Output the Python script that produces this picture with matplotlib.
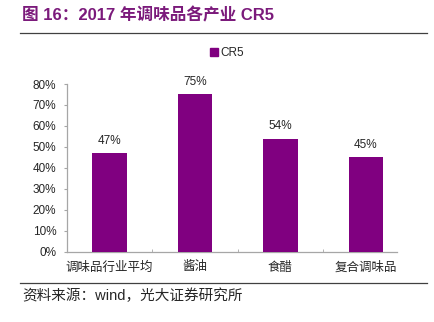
import matplotlib
matplotlib.use("Agg")
import matplotlib.pyplot as plt
from matplotlib.lines import Line2D
from matplotlib.patches import Patch

plt.rcParams["font.family"] = ["Liberation Sans", "Noto Sans CJK SC", "DejaVu Sans"]

categorias = ["调味品行业平均", "酱油", "食醋", "复合调味品"]
cr5 = [0.47, 0.75, 0.54, 0.45]
rotulos = ["47%", "75%", "54%", "45%"]
yticks = [0, 0.1, 0.2, 0.3, 0.4, 0.5, 0.6, 0.7, 0.8]
ytick_labels = ["0%", "10%", "20%", "30%", "40%", "50%", "60%", "70%", "80%"]

ROXO = "#800080"
TEXTO = "#262626"
EIXO = "#a6a6a6"

W, H = 435, 322
fig = plt.figure(figsize=(W / 100, H / 100), dpi=100)
ax = fig.add_axes([66.7 / W, 1 - 251.7 / H, (396.7 - 66.7) / W, (251.7 - 84) / H])

x = range(len(categorias))
bars = ax.bar(x, cr5, width=0.405, color=ROXO, zorder=3)
for bar, txt in zip(bars, rotulos):
    ax.annotate(txt, (bar.get_x() + bar.get_width() / 2, bar.get_height()),
                xytext=(0, 4.5), textcoords="offset points",
                ha="center", va="bottom", fontsize=8.5, color=TEXTO)

ax.set_xlim(-0.5, 3.36)
ax.set_ylim(0, 0.8)
ax.set_yticks(yticks)
ax.set_yticklabels(ytick_labels)
ax.set_xticks(list(x))
ax.set_xticklabels(categorias)
ax.set_xticks([0.5, 1.5, 2.5], minor=True)

for s in ["top", "right"]:
    ax.spines[s].set_visible(False)
for s in ["left", "bottom"]:
    ax.spines[s].set_color(EIXO)
    ax.spines[s].set_linewidth(0.9)

ax.tick_params(axis="y", length=2.5, color=EIXO, pad=5, labelsize=8.5, labelcolor=TEXTO)
ax.tick_params(axis="x", which="major", length=0, pad=7, labelsize=9, labelcolor=TEXTO)
ax.tick_params(axis="x", which="minor", length=2.5, direction="in", color=EIXO)

fig.legend(handles=[Patch(color=ROXO, label="CR5")], loc="center",
           bbox_to_anchor=(227 / W, 1 - 53 / H), frameon=False,
           handlelength=0.6, handleheight=0.6, handletextpad=0.2,
           fontsize=8.5, labelcolor=TEXTO)

fig.text(22 / W, 1 - 15 / H, "图 16：2017 年调味品各产业 CR5", fontsize=12,
         fontweight="bold", color="#7b1a7b", va="center", ha="left")

fig.add_artist(Line2D([20 / W, 427 / W], [1 - 32.5 / H] * 2, color="#404040", lw=0.9))
fig.add_artist(Line2D([20 / W, 427 / W], [1 - 283 / H] * 2, color="#404040", lw=0.9))

fig.text(22 / W, 1 - 296 / H, "资料来源：wind，光大证券研究所", fontsize=10.5,
         color=TEXTO, va="center", ha="left")

fig.savefig("out.png", dpi=100)
plt.close(fig)
